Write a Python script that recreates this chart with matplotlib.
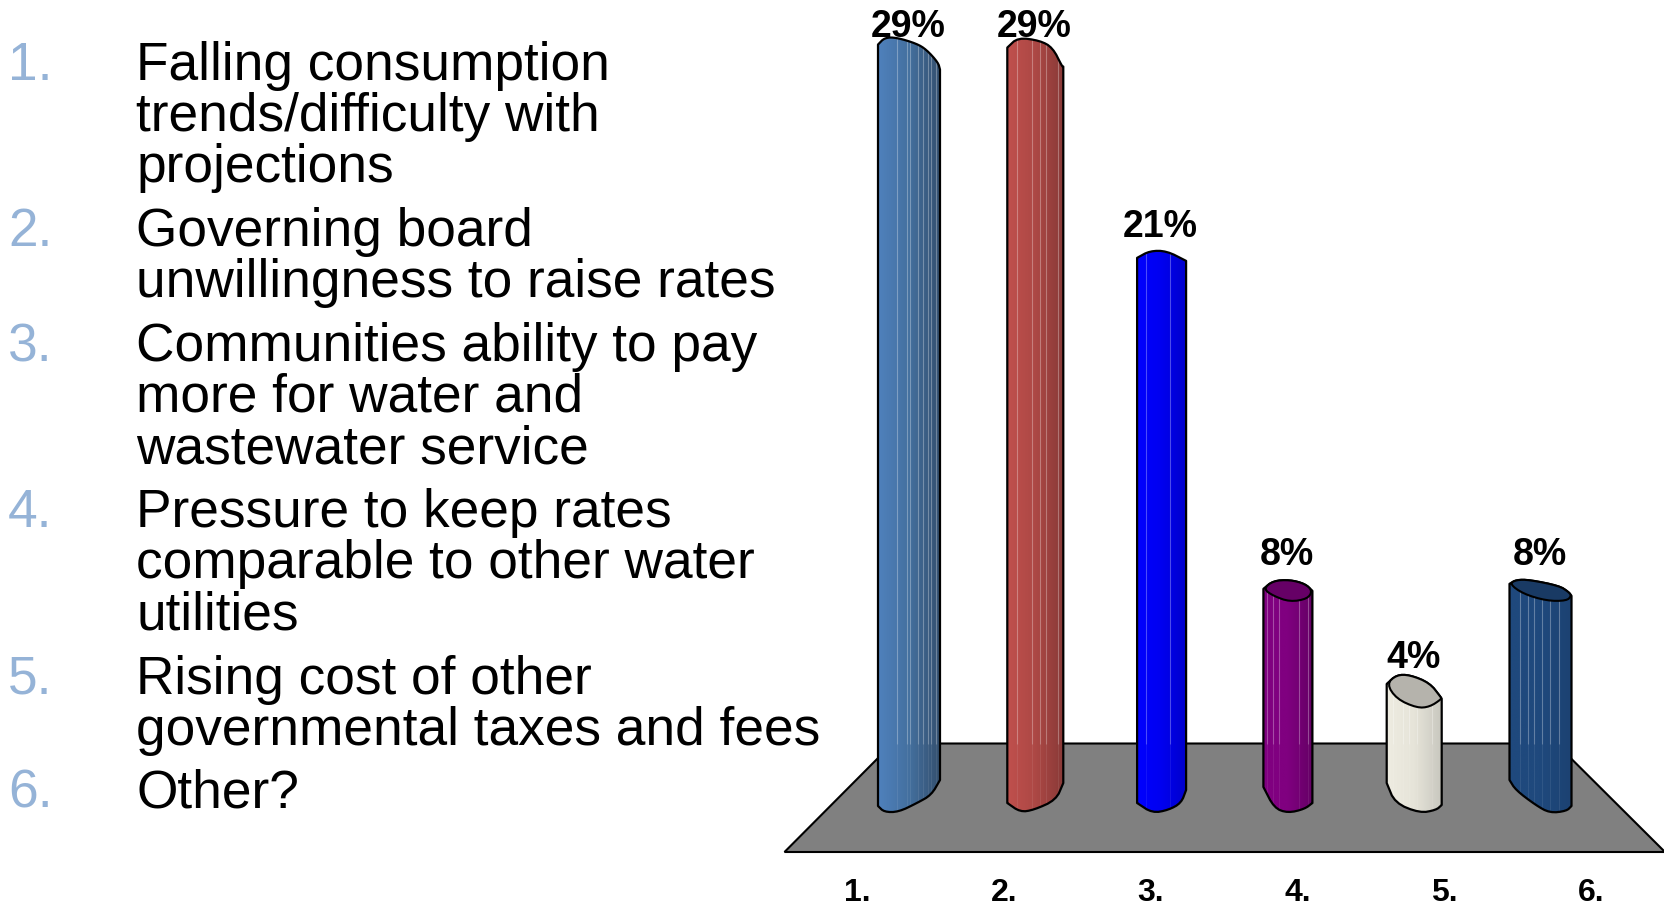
import numpy as np
import matplotlib
matplotlib.use("Agg")
import matplotlib.pyplot as plt
from matplotlib.path import Path
from matplotlib.patches import PathPatch, Polygon
from matplotlib.colors import LinearSegmentedColormap

plt.rcParams['font.family'] = ['Liberation Sans', 'DejaVu Sans']

# ---- data ----
categories = ["1.", "2.", "3.", "4.", "5.", "6."]
values = [29.2, 29.2, 20.9, 8.1, 4.4, 8.1]
question_numbers = ["1.", "2.", "3.", "4.", "5.", "6."]
question_lines = [
    ["Falling consumption", "trends/difficulty with", "projections"],
    ["Governing board", "unwillingness to raise rates"],
    ["Communities ability to pay", "more for water and", "wastewater service"],
    ["Pressure to keep rates", "comparable to other water", "utilities"],
    ["Rising cost of other", "governmental taxes and fees"],
    ["Other?"],
]

# ---- styles ----
W, H = 1665, 906
STEP = 126.3          # px between bars
X0 = 909.0            # px of first bar centre
PCT = 25.7            # px per percent
Y0 = 788.0            # px of value zero
widths = [62, 56, 49, 49, 55, 62]
grad_left = ['#4F81BD', '#C0504D', '#0000FF', '#800080', '#EEECE1', '#1F497D']
grad_mid = ['#44709F', '#AD4845', '#0000F0', '#800080', '#E6E4D9', '#1F497D']
grad_right = ['#34506F', '#8A3A38', '#0000CC', '#660066', '#C8C7BE', '#1C4272']
cap_colors = [None, None, None, '#660066', '#B5B3AC', '#193A64']
top_profiles = [  # (fraction of width, px below the top)
    [(0, 7), (.11, 0), (.30, 0), (.62, 6), (.78, 12), (.97, 25), (1, 32)],
    [(0, 10), (.19, 0), (.58, 3), (.81, 10), (.98, 29), (1, 29)],
    [(0, 7), (.26, 0), (.6, 0), (1, 10)],
    [(0, 9), (.2, 1), (.54, 0), (.85, 4), (1, 11)],
    [(0, 9), (.18, 0), (.42, 0), (.78, 8), (.98, 22), (1, 24)],
    [(0, 4), (.11, 0), (.32, 0), (.8, 6), (.95, 12), (1, 16)],
]
cap_lower = [
    None, None, None,
    [(.9, 19), (.54, 22), (.2, 16), (0, 9)],
    [(.78, 32), (.55, 33), (.18, 24), (0, 9)],
    [(.92, 21), (.6, 21), (.22, 14), (0, 4)],
]
bottom_profiles = [  # (fraction of width, px above the base)
    [(1, 33), (.86, 18), (.63, 10), (.33, 1), (.1, 1), (0, 7)],
    [(1, 30), (.87, 13), (.47, 3), (.23, 1), (0, 10)],
    [(1, 23), (.9, 10), (.64, 3), (.31, 0), (0, 10)],
    [(1, 10), (.84, 4), (.5, 0), (.22, 5), (0, 26)],
    [(1, 8), (.9, 3), (.6, 0), (.15, 10), (0, 30)],
    [(1, 7), (.92, 2), (.65, 0), (.42, 8), (.1, 23), (0, 33)],
]
BASE = 813.0
rib_fracs = [
    [.30, .47, .52, .65, .73, .81, .86, .94],
    [.18, .44, .59, .70, .91],
    [.18, .68],
    [.08, .19, .31, .73, .91],
    [.11, .30, .40, .55, .82],
    [.17, .30, .40, .52, .66, .80],
]
label_gap = [1, 1, 14, 15, 7, 15]
TEXT_PT = 38.35
line_y = [[80, 131, 182], [246, 297], [361, 412, 463], [527, 578, 630], [694, 745], [808]]


def smooth(points, closed=False, passes=2):
    """Round the corners of an outline by corner cutting."""
    p = np.asarray(points, float)
    for _ in range(passes):
        if closed:
            q = np.roll(p, -1, axis=0)
            p = np.column_stack([.75 * p + .25 * q, .25 * p + .75 * q]).reshape(-1, 2)
        else:
            a, b = p[:-1], p[1:]
            mid = np.column_stack([.75 * a + .25 * b, .25 * a + .75 * b]).reshape(-1, 2)
            p = np.vstack([p[:1], mid, p[-1:]])
    return p


fig = plt.figure(figsize=(W / 100, H / 100), dpi=100, facecolor='white')

# pixel axes: question list and floor
ax_px = fig.add_axes([0, 0, 1, 1], zorder=1)
ax_px.set_xlim(0, W)
ax_px.set_ylim(H, 0)
ax_px.axis('off')
ax_px.add_patch(Polygon([(784.5, 852), (892.5, 743.5), (1556, 743.5), (1665, 852)], closed=True,
                        facecolor='#808080', edgecolor='black', lw=1.5, joinstyle='miter'))

for num, lines, ys in zip(question_numbers, question_lines, line_y):
    ax_px.text(8, ys[0], num, color='#95B3D7', fontsize=TEXT_PT, va='baseline', ha='left')
    for s, y in zip(lines, ys):
        ax_px.text(136.5, y, s, color='black', fontsize=TEXT_PT, va='baseline', ha='left')

for i, cat in enumerate(categories):
    ax_px.text(857 + i * 146.8, 901, cat, fontsize=23, fontweight='bold', ha='center',
               va='baseline', color='black')

# bar axes: x in category index, y in percent
ax = fig.add_axes([0, 0, 1, 1], zorder=2)
ax.patch.set_alpha(0)
base_val = (Y0 - BASE) / PCT
floor_val = (Y0 - 744) / PCT

for i, v in enumerate(values):
    w = widths[i] / STEP
    xl = i - w / 2
    top = smooth([(xl + f * w, v - d / PCT) for f, d in top_profiles[i]])
    bot = smooth([(xl + f * w, base_val + d / PCT) for f, d in bottom_profiles[i]])
    verts = np.vstack([top, bot, top[:1]])
    codes = [Path.MOVETO] + [Path.LINETO] * (len(verts) - 2) + [Path.CLOSEPOLY]
    outline = Path(verts, codes)
    cmap = LinearSegmentedColormap.from_list(
        'b', [grad_left[i], grad_mid[i], grad_right[i]])
    im = ax.imshow(np.linspace(0, 1, 128)[None, :], cmap=cmap, aspect='auto',
                   extent=(xl, xl + w, base_val, v), zorder=3 + i * .01,
                   interpolation='bilinear')
    im.set_clip_path(PathPatch(outline, transform=ax.transData))
    # ribs: brighter above the floor, faint in front of it
    tx, ty = [p[0] for p in top_profiles[i]], [v - p[1] / PCT for p in top_profiles[i]]
    bp = sorted(bottom_profiles[i])
    bx, by = [p[0] for p in bp], [base_val + p[1] / PCT for p in bp]
    for f in rib_fracs[i]:
        ytop = np.interp(f, tx, ty)
        ybot = np.interp(f, bx, by)
        x = xl + f * w
        for y0, y1, a in ((floor_val, ytop, .30), (ybot, floor_val, .08)):
            if y1 > y0:
                ln, = ax.plot([x, x], [y0, y1], color='white', lw=.8, alpha=a,
                              zorder=3.5 + i * .01, solid_capstyle='butt')
                ln.set_clip_path(PathPatch(outline, transform=ax.transData))
    ax.add_patch(PathPatch(outline, facecolor='none', edgecolor='black', lw=1.6,
                           zorder=4 + i * .01, joinstyle='round'))
    if cap_colors[i]:
        raw = [(xl + f * w, v - d / PCT) for f, d in top_profiles[i] + cap_lower[i]]
        ax.add_patch(Polygon(smooth(raw[:-1], closed=True), closed=True, facecolor=cap_colors[i],
                             edgecolor='black', lw=1.5, zorder=4.5 + i * .01, joinstyle='round'))
    ax.text(i - 1.0 / STEP, v + label_gap[i] / PCT, f"{round(v)}%", fontsize=27, fontweight='bold',
            ha='center', va='baseline', color='black', zorder=6)

ax.set_xlim(-X0 / STEP, (W - X0) / STEP)
ax.set_ylim((Y0 - H) / PCT, Y0 / PCT)
ax.axis('off')

fig.savefig('out.png', dpi=100, facecolor='white')
